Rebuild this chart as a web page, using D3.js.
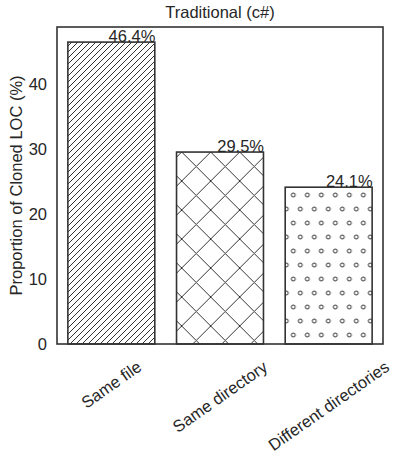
<!DOCTYPE html>
<html>
<head>
<meta charset="utf-8">
<script src="https://cdn.jsdelivr.net/npm/d3@7"></script>
<style>
  body { margin: 0; background: #fff; }
  text { font-family: "Liberation Sans", Arial, sans-serif; fill: #262626; }
</style>
</head>
<body>
<div id="chart"></div>
<script>
// chart data
const categories = ['Same file', 'Same directory', 'Different directories'];
const proportions = [46.4, 29.5, 24.1];
const valueLabels = ['46.4%', '29.5%', '24.1%'];
const hatches = ['diag', 'cross', 'dots'];
const yTicks = [0, 10, 20, 30, 40];
const chartTitle = 'Traditional (c#)';
const yTitle = 'Proportion of Cloned LOC (%)';

const W = 399, H = 457;
const margin = { top: 27, right: 16, bottom: 113, left: 57 };
const width = W - margin.left - margin.right;
const height = H - margin.top - margin.bottom;
const edge = '#333333';
const fs = 16.5;

const svg = d3.select('#chart').append('svg')
    .attr('width', W)
    .attr('height', H);

// hatch patterns
const defs = svg.append('defs');
let p = defs.append('pattern').attr('id', 'diag')
    .attr('patternUnits', 'userSpaceOnUse')
    .attr('width', 6).attr('height', 6);
p.append('path').attr('d', 'M-1,7 L7,-1 M-4,4 L4,-4 M2,10 L10,2')
    .attr('stroke', edge).attr('stroke-width', 1);

p = defs.append('pattern').attr('id', 'cross')
    .attr('patternUnits', 'userSpaceOnUse')
    .attr('x', 8.7).attr('y', 9)
    .attr('width', 29).attr('height', 29);
p.append('path').attr('d', 'M0,0 L29,29 M29,0 L0,29')
    .attr('stroke', edge).attr('stroke-width', 1);

p = defs.append('pattern').attr('id', 'dots')
    .attr('patternUnits', 'userSpaceOnUse')
    .attr('x', 5.3).attr('y', -7)
    .attr('width', 14).attr('height', 28);
[[7, 7], [0, 21], [14, 21]].forEach(c => {
    p.append('circle').attr('cx', c[0]).attr('cy', c[1]).attr('r', 2)
        .attr('fill', 'none').attr('stroke', edge).attr('stroke-width', 1);
});

const g = svg.append('g')
    .attr('transform', 'translate(' + margin.left + ',' + margin.top + ')');

const x = d3.scaleLinear().domain([-0.5, 2.5]).range([0, width]);
const y = d3.scaleLinear().domain([0, 46.4 * 1.05]).range([height, 0]);
const barW = x(0.8) - x(0);

// bars
g.selectAll('.bar').data(proportions).enter().append('rect')
    .attr('class', 'bar')
    .attr('x', (d, i) => x(i) - barW / 2)
    .attr('y', d => y(d))
    .attr('width', barW)
    .attr('height', d => height - y(d))
    .attr('fill', (d, i) => 'url(#' + hatches[i] + ')')
    .attr('stroke', edge)
    .attr('stroke-width', 1.6);

// value labels
g.selectAll('.val').data(proportions).enter().append('text')
    .attr('x', (d, i) => x(i + 0.19))
    .attr('y', d => y(d))
    .attr('text-anchor', 'middle')
    .style('font-size', fs + 'px')
    .text((d, i) => valueLabels[i]);

// y axis (labels only)
const yAxis = g.append('g')
    .call(d3.axisLeft(y).tickValues(yTicks).tickSize(0).tickPadding(10));
yAxis.select('.domain').remove();
yAxis.selectAll('text')
    .style('font-size', fs + 'px')
    .style('font-family', '"Liberation Sans", Arial, sans-serif')
    .attr('fill', '#262626');

// x tick labels, rotated
const rot = 35;
const xl = g.append('g').attr('transform', 'translate(0,' + height + ')');
xl.selectAll('text').data(categories).enter().append('text')
    .style('font-size', fs + 'px')
    .attr('text-anchor', 'middle')
    .attr('dy', '0.35em')
    .text(d => d)
    .each(function (d, i) {
        const w = this.getComputedTextLength();
        const a = rot * Math.PI / 180;
        const bh = w * Math.sin(a) + fs * Math.cos(a);
        const cy = 14 + bh / 2;
        d3.select(this).attr('transform',
            'translate(' + x(i) + ',' + cy + ') rotate(' + (-rot) + ')');
    });

// frame
g.append('rect')
    .attr('width', width).attr('height', height)
    .attr('fill', 'none').attr('stroke', edge).attr('stroke-width', 1.6);

// title
svg.append('text')
    .attr('x', margin.left + width / 2)
    .attr('y', 18)
    .attr('text-anchor', 'middle')
    .style('font-size', fs + 'px')
    .text(chartTitle);

// y title
svg.append('text')
    .attr('transform', 'translate(22,' + (margin.top + height / 2) + ') rotate(-90)')
    .attr('text-anchor', 'middle')
    .style('font-size', fs + 'px')
    .text(yTitle);
</script>
</body>
</html>
